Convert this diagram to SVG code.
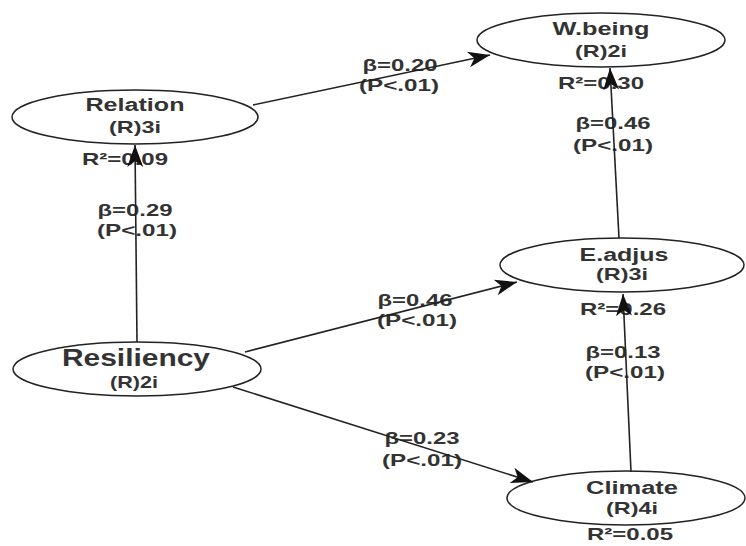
<svg xmlns="http://www.w3.org/2000/svg" width="746" height="546" viewBox="0 0 746 546">
<style>
.node ellipse{fill:#fff;stroke:#222;stroke-width:1.5}
text{font-family:"Liberation Sans",Arial,sans-serif;font-weight:bold;fill:#333;text-anchor:middle}
.nm{font-size:18px}
.big{font-size:23px}
.sub{font-size:17px}
.lb{font-size:17px}
.conn line{stroke:#222;stroke-width:1.6;marker-end:url(#ah)}
</style>
<defs>
<marker id="ah" markerUnits="userSpaceOnUse" markerWidth="26" markerHeight="20" refX="22" refY="8" orient="auto" overflow="visible">
<path d="M22,8 L0,0 L6,8 L0,16 Z" fill="#111"/>
</marker>
</defs>
<rect width="746" height="546" fill="#fff"/>
<g id="edge-labels">
<text class="lb" x="135" y="216" textLength="75" lengthAdjust="spacingAndGlyphs">β=0.29</text>
<text class="lb" x="137" y="236" textLength="80" lengthAdjust="spacingAndGlyphs">(P&lt;.01)</text>
<text class="lb" x="400" y="71" textLength="75" lengthAdjust="spacingAndGlyphs">β=0.20</text>
<text class="lb" x="399" y="91" textLength="80" lengthAdjust="spacingAndGlyphs">(P&lt;.01)</text>
<text class="lb" x="613" y="129" textLength="75" lengthAdjust="spacingAndGlyphs">β=0.46</text>
<text class="lb" x="613" y="151" textLength="80" lengthAdjust="spacingAndGlyphs">(P&lt;.01)</text>
<text class="lb" x="415" y="306" textLength="75" lengthAdjust="spacingAndGlyphs">β=0.46</text>
<text class="lb" x="417" y="326" textLength="80" lengthAdjust="spacingAndGlyphs">(P&lt;.01)</text>
<text class="lb" x="623" y="358" textLength="75" lengthAdjust="spacingAndGlyphs">β=0.13</text>
<text class="lb" x="625" y="378" textLength="80" lengthAdjust="spacingAndGlyphs">(P&lt;.01)</text>
<text class="lb" x="422" y="444" textLength="75" lengthAdjust="spacingAndGlyphs">β=0.23</text>
<text class="lb" x="422" y="466" textLength="80" lengthAdjust="spacingAndGlyphs">(P&lt;.01)</text>
</g>
<g id="relation" class="node">
<ellipse cx="135" cy="117" rx="123" ry="27"/>
<text class="nm" x="135" y="111" textLength="99" lengthAdjust="spacingAndGlyphs">Relation</text>
<text class="sub" x="135" y="133" textLength="52" lengthAdjust="spacingAndGlyphs">(R)3i</text>
<text class="lb" x="125" y="165" textLength="86" lengthAdjust="spacingAndGlyphs">R²=0.09</text>
</g>
<g id="wbeing" class="node">
<ellipse cx="601" cy="40" rx="124" ry="27"/>
<text class="nm" x="601" y="35" textLength="97" lengthAdjust="spacingAndGlyphs">W.being</text>
<text class="sub" x="601" y="57" textLength="52" lengthAdjust="spacingAndGlyphs">(R)2i</text>
<text class="lb" x="601" y="89" textLength="86" lengthAdjust="spacingAndGlyphs">R²=0.30</text>
</g>
<g id="eadjus" class="node">
<ellipse cx="622" cy="265" rx="122" ry="27"/>
<text class="nm" x="624" y="261" textLength="89" lengthAdjust="spacingAndGlyphs">E.adjus</text>
<text class="sub" x="622" y="280" textLength="52" lengthAdjust="spacingAndGlyphs">(R)3i</text>
<text class="lb" x="623" y="315" textLength="86" lengthAdjust="spacingAndGlyphs">R²=0.26</text>
</g>
<g id="resiliency" class="node">
<ellipse cx="137" cy="369" rx="124" ry="27"/>
<text class="big" x="136" y="366" textLength="148" lengthAdjust="spacingAndGlyphs">Resiliency</text>
<text class="sub" x="134" y="388" textLength="48" lengthAdjust="spacingAndGlyphs">(R)2i</text>
</g>
<g id="climate" class="node">
<ellipse cx="626" cy="498" rx="119" ry="27"/>
<text class="nm" x="632" y="494" textLength="92" lengthAdjust="spacingAndGlyphs">Climate</text>
<text class="sub" x="632" y="514" textLength="52" lengthAdjust="spacingAndGlyphs">(R)4i</text>
<text class="lb" x="630" y="540" textLength="86" lengthAdjust="spacingAndGlyphs">R²=0.05</text>
</g>
<g id="connectors" class="conn">
<line x1="137" y1="342" x2="135" y2="145"/>
<line x1="253" y1="105" x2="490" y2="55"/>
<line x1="245" y1="352" x2="517" y2="282"/>
<line x1="233" y1="387" x2="533" y2="482"/>
<line x1="631" y1="472" x2="623" y2="294"/>
<line x1="619" y1="238" x2="610" y2="68"/>
</g>
</svg>
